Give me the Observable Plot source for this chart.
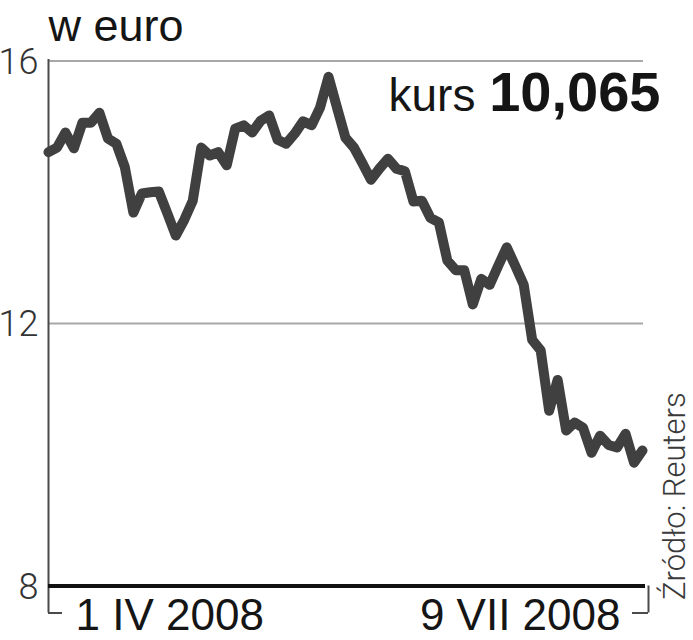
<!DOCTYPE html>
<html>
<head>
<meta charset="utf-8">
<script src="https://cdn.jsdelivr.net/npm/d3@7"></script>
<script src="https://cdn.jsdelivr.net/npm/@observablehq/plot@0.6"></script>
<style>
  html, body { margin: 0; padding: 0; background: #fff; }
  #chart { width: 693px; height: 640px; }
</style>
</head>
<body>
<div id="chart"></div>
<script>
// ---- data ----
const titleText = "w euro";
const rateLabel = "kurs";
const rateValue = "10,065";
const sourceText = "Źródło: Reuters";
const yTicks = [8, 12, 16];
const gridTicks = [12, 16];
const xTickLabels = ["1 IV 2008", "9 VII 2008"];
// daily EUR quote, 1 IV 2008 – 9 VII 2008
const values = [
  14.61, 14.68, 14.91, 14.67, 15.06, 15.06, 15.21, 14.82, 14.74, 14.38,
  13.69, 13.98, 14.00, 14.01, 13.68, 13.34, 13.58, 13.87, 14.68, 14.56,
  14.61, 14.41, 14.97, 15.02, 14.91, 15.09, 15.17, 14.80, 14.74, 14.89,
  15.08, 15.02, 15.29, 15.76, 15.29, 14.83, 14.68, 14.44, 14.19, 14.36,
  14.51, 14.36, 14.32, 13.86, 13.87, 13.61, 13.54, 12.96, 12.81, 12.81,
  12.29, 12.68, 12.59, 12.88, 13.16, 12.88, 12.59, 11.75, 11.59, 10.67,
  11.14, 10.37, 10.49, 10.41, 10.03, 10.29, 10.15, 10.11, 10.32, 9.88,
  10.065
];

// ---- layout ----
const W = 693, H = 640;
const mL = 48, mR = 51, mT = 60.5, mB = 54.5;
const n = values.length - 1;
const pxX = (W - mL - mR) / n;          // px per day
const pxY = (H - mT - mB) / (16 - 8);   // px per euro
const xOff = p => p / pxX;              // pixel offset -> x units
const yOff = p => p / pxY;              // pixel offset -> y units
const yFoot = 8 - yOff(27);
const font = "Liberation Sans, Arial, sans-serif";
const lightFont = "Roboto, Liberation Sans, sans-serif";

const xStart = [{i: 0, label: xTickLabels[0]}];
const xEnd = [{i: n, label: xTickLabels[1]}];

const chart = Plot.plot({
  width: W, height: H,
  marginLeft: mL, marginRight: mR, marginTop: mT, marginBottom: mB,
  style: {fontFamily: font, background: "#fff", overflow: "visible"},
  x: {domain: [0, n], axis: null},
  y: {domain: [8, 16], axis: null},
  marks: [
    Plot.ruleY(gridTicks, {x1: 0, x2: n + xOff(1), stroke: "#a8a8a8", strokeWidth: 2}),
    Plot.ruleX([0], {y1: 16 + yOff(1.5), y2: yFoot, stroke: "#4a4a4a", strokeWidth: 2}),
    Plot.ruleY([yFoot], {x1: 0, x2: xOff(14), stroke: "#4a4a4a", strokeWidth: 2}),
    Plot.ruleX([n + xOff(6)], {y1: 8, y2: yFoot, stroke: "#4a4a4a", strokeWidth: 2}),
    Plot.ruleY([yFoot], {x1: n - xOff(10), x2: n + xOff(6), stroke: "#4a4a4a", strokeWidth: 2}),
    Plot.ruleY([8], {x1: 0, x2: n + xOff(3), stroke: "#111", strokeWidth: 4}),
    Plot.line(values, {
      x: (d, i) => i, y: d => d,
      stroke: "#404040", strokeWidth: 10,
      strokeLinejoin: "round", strokeLinecap: "round"
    }),
    Plot.text(yTicks, {
      x: 0, y: d => d, text: d => String(d),
      textAnchor: "end", lineAnchor: "middle", dx: -10, dy: 1,
      fontSize: 36, fontWeight: 300, fontFamily: lightFont, fill: "#333"
    }),
    Plot.text(xStart, {
      x: "i", y: 8, text: "label", textAnchor: "start", dx: 27,
      lineAnchor: "top", dy: 12.5, fontSize: 44, fill: "#151515"
    }),
    Plot.text(xEnd, {
      x: "i", y: 8, text: "label", textAnchor: "end", dx: -22,
      lineAnchor: "top", dy: 12.5, fontSize: 44, fill: "#151515"
    }),
    Plot.text([titleText], {
      frameAnchor: "top-left", textAnchor: "start", lineAnchor: "bottom",
      dy: -20.5, fontSize: 45, fill: "#151515"
    }),
    Plot.text([rateLabel], {
      frameAnchor: "top-left", textAnchor: "start", lineAnchor: "bottom",
      dx: 340, dy: 49.5, fontSize: 46, fill: "#151515"
    }),
    Plot.text([rateValue], {
      frameAnchor: "top-right", textAnchor: "end", lineAnchor: "bottom",
      dx: 18, dy: 49.5, fontSize: 56, fontWeight: "bold", fill: "#151515"
    }),
    Plot.text([sourceText], {
      frameAnchor: "bottom-right", textAnchor: "start", lineAnchor: "bottom",
      rotate: -90, dx: 42, dy: 14, fontSize: 31, fontWeight: 300,
      fontFamily: lightFont, fill: "#3a3a3a"
    })
  ]
});
document.getElementById("chart").appendChild(chart);
</script>
</body>
</html>
